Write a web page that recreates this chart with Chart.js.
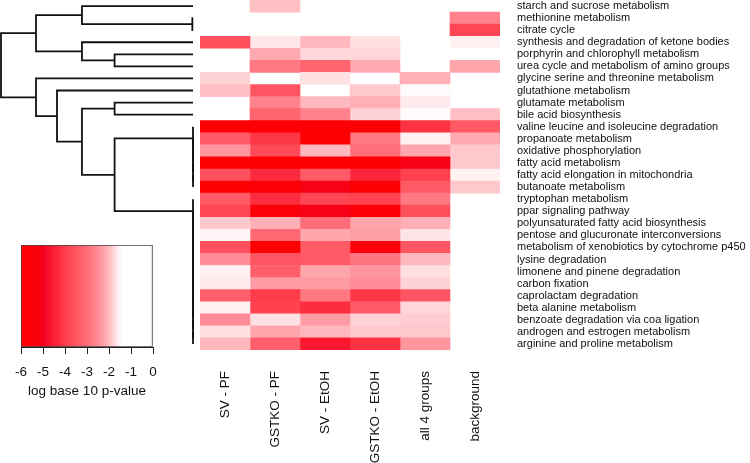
<!DOCTYPE html>
<html><head><meta charset="utf-8">
<script src="https://cdn.jsdelivr.net/npm/chart.js@4.4.1/dist/chart.umd.min.js"></script>
<style>
html,body{margin:0;padding:0;background:#fff;}
#wrap{position:relative;width:750px;height:463px;overflow:hidden;background:#fff;}
canvas{position:absolute;left:0;top:0;}
</style></head><body>
<div id="wrap">
<canvas id="dendro" width="200" height="350"></canvas>
<canvas id="legend" width="200" height="463"></canvas>
<canvas id="heat" width="750" height="463"></canvas>
</div>
<script>
const pathways = [
 'starch and sucrose metabolism','methionine metabolism','citrate cycle',
 'synthesis and degradation of ketone bodies','porphyrin and chlorophyll metabolism',
 'urea cycle and metabolism of amino groups','glycine serine and threonine metabolism',
 'glutathione metabolism','glutamate metabolism','bile acid biosynthesis',
 'valine leucine and isoleucine degradation','propanoate metabolism','oxidative phosphorylation',
 'fatty acid metabolism','fatty acid elongation in mitochondria','butanoate metabolism',
 'tryptophan metabolism','ppar signaling pathway','polyunsaturated fatty acid biosynthesis',
 'pentose and glucuronate interconversions','metabolism of xenobiotics by cytochrome p450',
 'lysine degradation','limonene and pinene degradation','carbon fixation','caprolactam degradation',
 'beta alanine metabolism','benzoate degradation via coa ligation','androgen and estrogen metabolism',
 'arginine and proline metabolism'
];
const groups = ['SV - PF','GSTKO - PF','SV - EtOH','GSTKO - EtOH','all 4 groups','background'];

// log10 p-values (null = not significant / blank)
const svPF = [null,null,null,-3.6,null,null,-1.81,-1.96,null,null,-5.8,-3.4,-2.39,-5.8,-3.6,-5.8,-3.4,-3.8,-1.89,-1.5,-3.6,-2.5,-1.55,-1.6,-3.3,-1.55,-2.5,-1.7,-2.0];
const gstkoPF = [-1.95,null,null,-1.65,-2.17,-2.83,null,-3.5,-2.67,-3.2,-5.8,-4.08,-3.7,-5.8,-4.3,-5.6,-4.25,-5.3,-2.11,-3.1,-5.9,-3.5,-3.3,-2.33,-4.0,-3.9,-1.7,-2.22,-3.3];
const svEtOH = [null,null,null,-2.0,-1.78,-3.2,-1.7,null,-2.0,-2.67,-5.8,-5.8,-2.0,-5.8,-3.4,-5.1,-3.8,-5.1,-3.0,-2.22,-3.4,-3.4,-2.22,-2.33,-2.83,-4.25,-2.33,-2.0,-4.6];
const gstkoEtOH = [null,null,null,-1.7,-1.78,-2.17,null,-1.89,-2.11,-1.81,-5.8,-2.83,-3.0,-5.8,-4.4,-5.7,-3.9,-5.5,-2.22,-2.28,-5.3,-2.9,-2.39,-2.5,-4.08,-3.4,-1.81,-1.89,-4.17];
const all4 = [null,null,null,null,null,null,-2.11,-1.45,-1.6,-1.45,-4.17,-1.55,-2.22,-5.1,-3.9,-3.4,-2.83,-3.6,-2.11,-1.67,-3.5,-2.0,-1.73,-1.81,-3.5,-1.78,-1.85,-1.89,-2.39];
const background = [null,-2.67,-3.8,-1.55,null,-2.22,null,null,null,-1.96,-3.4,-2.17,-1.89,-1.89,-1.53,-1.89,null,null,null,null,null,null,null,null,null,null,null,null,null];

const legendTicks = [-6,-5,-4,-3,-2,-1,0];

// dendrogram (hclust style): negative = leaf (1-based), positive = earlier merge (1-based)
const mergeLeft   = [-2,-15,-14,-13,-12,-11,-28,-27,-26,-25,-24,-23,-22,-21,-20,-19,-18,-17,-5,-9, 6,-1,-4,20,-8,22,-7,26];
const mergeRight  = [-3,-16,  2,  3,  4,  5,-29,  7,  8,  9, 10, 11, 12, 13, 14, 15, 16, 17,-6,-10,18, 1,19,21,24,23,25,27];
const mergeHeight = [0.02,0,0,0,0,0,0,0,0,0,0,0,0,0,0,0,0,0,2.45,2.45,2.45,3.47,3.47,3.47,4.25,4.906,4.906,6.0];

const FONT = "'Liberation Sans', Arial, Helvetica, sans-serif";
const TEXT = '#111';
const colorStops = [[-6,[255,0,0]],[-5.2,[250,0,12]],[-5,[245,0,30]],[-4,[255,60,75]],[-3,[255,110,120]],[-2.5,[255,140,150]],[-2,[255,185,190]],[-1.7,[255,225,228]],[-1.4,[255,255,255]],[0,[255,255,255]]];
function colorFor(v){
  if (v == null) return 'rgba(0,0,0,0)';
  if (v <= colorStops[0][0]) return 'rgb(255,0,0)';
  for (let i=1;i<colorStops.length;i++){
    const [v1,c1] = colorStops[i];
    if (v <= v1){
      const [v0,c0] = colorStops[i-1];
      const t = (v - v0)/(v1 - v0);
      const c = c0.map((a,k)=>Math.round(a + (c1[k]-a)*t));
      return `rgb(${c[0]},${c[1]},${c[2]})`;
    }
  }
  return 'rgb(255,255,255)';
}

// ---------- heatmap ----------
const cols = [svPF, gstkoPF, svEtOH, gstkoEtOH, all4, background];
new Chart(document.getElementById('heat'), {
  type: 'bar',
  data: {
    labels: pathways,
    datasets: cols.map((vals, c) => ({
      label: groups[c],
      data: vals.map(v => v == null ? null : [c, c + 1]),
      backgroundColor: vals.map(colorFor),
      borderWidth: 0,
      barPercentage: 1,
      categoryPercentage: 1,
      grouped: false
    }))
  },
  options: {
    indexAxis: 'y', responsive: false, animation: false,
    layout: { padding: { left: 200, top: 0, right: 0, bottom: 0 } },
    plugins: { legend: { display: false }, tooltip: { enabled: false } },
    scales: {
      x: {
        type: 'linear', min: 0, max: groups.length, position: 'bottom',
        afterBuildTicks: s => { s.ticks = groups.map((g, i) => ({ value: i + 0.5 })); },
        afterFit: s => { s.height = 113; s.paddingLeft = 0; s.paddingRight = 0; },
        grid: { display: false, drawTicks: false }, border: { display: false },
        ticks: { autoSkip: false, minRotation: 90, maxRotation: 90, padding: 21,
          font: { family: FONT, size: 13.5 }, color: TEXT, callback: (v, i) => groups[i] }
      },
      y: {
        type: 'category', position: 'right',
        afterFit: s => { s.width = 250; s.paddingTop = 0; s.paddingBottom = 0; },
        grid: { display: false, drawTicks: false }, border: { display: false },
        ticks: { autoSkip: false, padding: 17, font: { family: FONT, size: 11 }, color: TEXT }
      }
    }
  }
});

// ---------- dendrogram ----------
const nodes = [];
const segs = [];
function ref(r){ return r < 0 ? { y: -r - 1, h: 0 } : nodes[r - 1]; }
for (let i = 0; i < mergeLeft.length; i++){
  const L = ref(mergeLeft[i]), R = ref(mergeRight[i]), h = mergeHeight[i];
  nodes.push({ y: (L.y + R.y) / 2, h });
  segs.push([{x:L.h,y:L.y},{x:h,y:L.y},{x:h,y:R.y},{x:R.h,y:R.y}]);
}
new Chart(document.getElementById('dendro'), {
  type: 'scatter',
  data: { datasets: segs.map(s => ({ data: s, showLine: true, borderColor: '#111', borderWidth: 1.8,
     pointRadius: 0, tension: 0, clip: false, fill: false })) },
  options: {
    responsive: false, animation: false,
    layout: { padding: { left: 1, right: 7, top: 0, bottom: 0 } },
    plugins: { legend: { display: false }, tooltip: { enabled: false } },
    scales: {
      x: { type: 'linear', min: 0, max: 6.0, reverse: true, display: false },
      y: { type: 'linear', min: -0.5, max: pathways.length - 0.5, reverse: true, display: false }
    }
  }
});

// ---------- colour key ----------
function gradientFill(ctx){
  const chart = ctx.chart;
  if (!chart.chartArea) return 'red';
  const xs = chart.scales.x;
  const x0 = xs.getPixelForValue(legendTicks[0]), x1 = xs.getPixelForValue(legendTicks[legendTicks.length-1]);
  const g = chart.ctx.createLinearGradient(x0, 0, x1, 0);
  const lo = legendTicks[0], hi = legendTicks[legendTicks.length-1];
  colorStops.forEach(([v, c]) => g.addColorStop((v - lo) / (hi - lo), `rgb(${c[0]},${c[1]},${c[2]})`));
  return g;
}
new Chart(document.getElementById('legend'), {
  type: 'bar',
  data: { labels: [''], datasets: [{ data: [[legendTicks[0], legendTicks[legendTicks.length-1]]],
     backgroundColor: gradientFill, borderColor: '#444', borderWidth: 1, borderSkipped: false,
     barPercentage: 1, categoryPercentage: 1 }] },
  options: {
    indexAxis: 'y', responsive: false, animation: false,
    layout: { padding: { left: 21, right: 47, top: 245, bottom: 56 } },
    plugins: { legend: { display: false }, tooltip: { enabled: false } },
    scales: {
      y: { display: false },
      x: {
        type: 'linear', min: legendTicks[0], max: legendTicks[legendTicks.length-1],
        afterBuildTicks: s => { s.ticks = legendTicks.map(v => ({ value: v })); },
        afterFit: s => { s.height = 60; },
        grid: { drawOnChartArea: false, drawTicks: true, tickLength: 7, color: '#222' },
        border: { display: true, color: '#222' },
        ticks: { padding: 10, font: { family: FONT, size: 13.5 }, color: TEXT, callback: v => String(v) },
        title: { display: true, text: 'log base 10 p-value', font: { family: FONT, size: 13.5 }, color: TEXT,
          padding: { top: 0, bottom: 8 } }
      }
    }
  }
});
</script>
</body></html>
